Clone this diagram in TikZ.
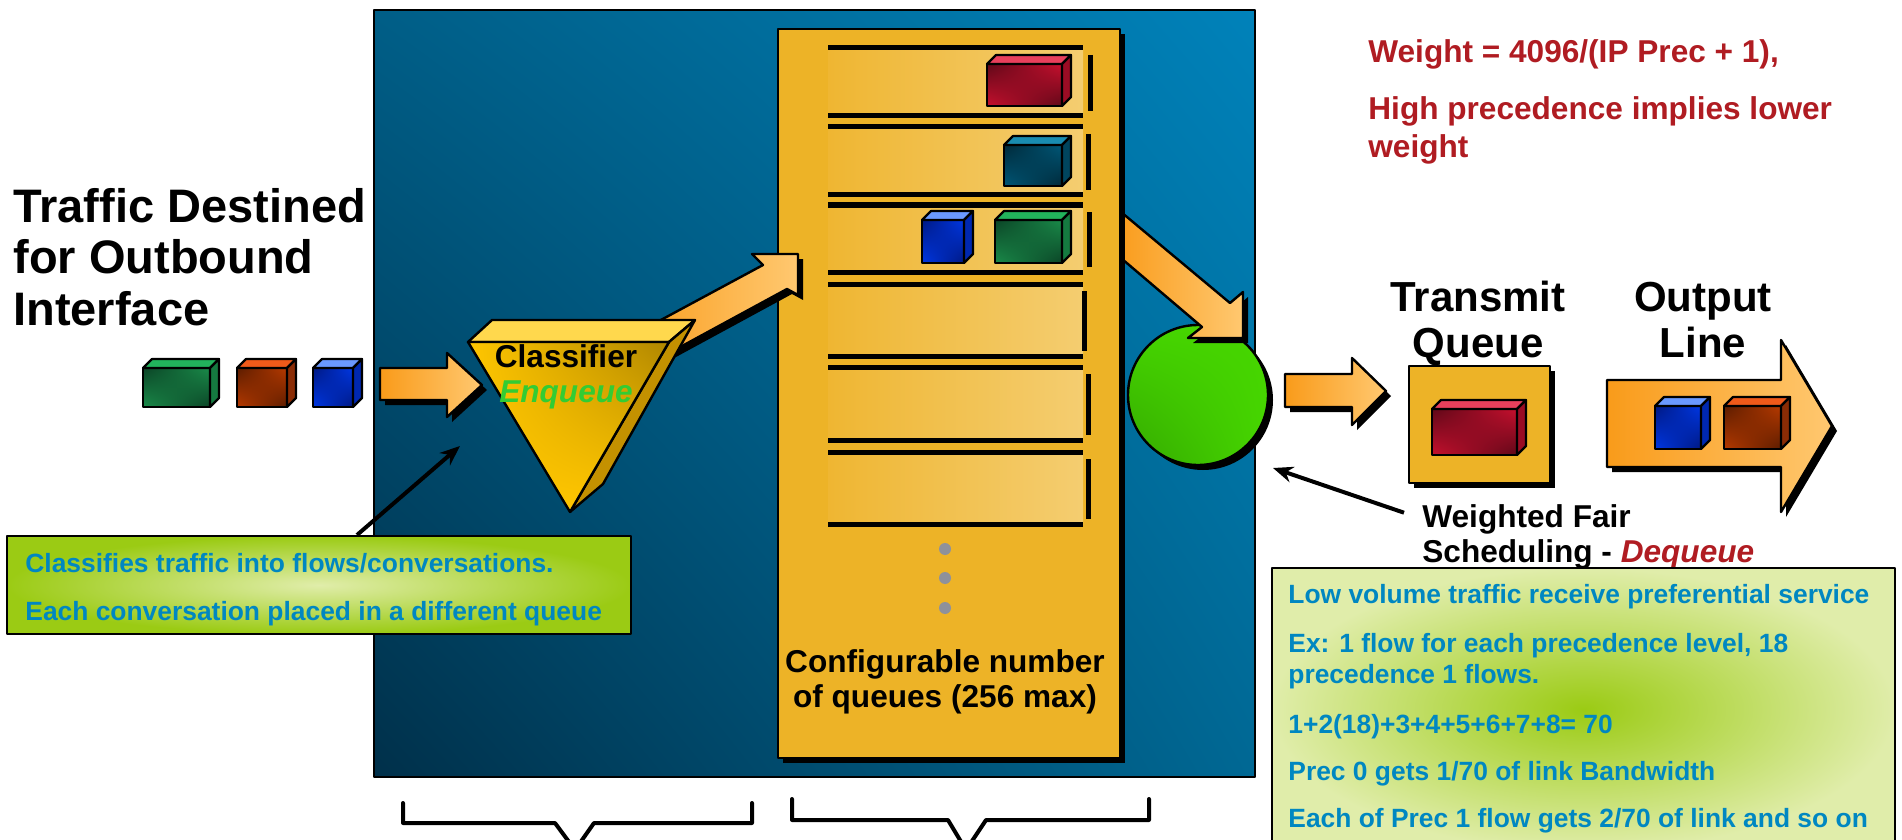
\documentclass[tikz,border=0pt]{standalone}
\usepackage{fontspec}
\setmainfont{Liberation Sans}
\usetikzlibrary{arrows.meta,positioning,shadows,shadings}

\definecolor{panelul}{HTML}{005E87}
\definecolor{panelur}{HTML}{0082BA}
\definecolor{panelll}{HTML}{00304A}
\definecolor{panellr}{HTML}{006894}
\definecolor{gold}{HTML}{EDB327}
\definecolor{slotl}{HTML}{EFB632}
\definecolor{slotr}{HTML}{F4CD70}
\definecolor{flowl}{HTML}{F99B1A}
\definecolor{flowr}{HTML}{FFC870}
\definecolor{clstop}{HTML}{FFD84D}
\definecolor{clsfront}{HTML}{FFC600}
\definecolor{clsdark}{HTML}{B08600}
\definecolor{clsside}{HTML}{C49100}
\definecolor{wfqhi}{HTML}{46D600}
\definecolor{wfqlo}{HTML}{34A800}
\definecolor{dotgray}{HTML}{8E919B}
\definecolor{notelight}{HTML}{E0EDAA}
\definecolor{notegreen}{HTML}{9BCB14}
\definecolor{notetext}{HTML}{0087C1}
\definecolor{wred}{HTML}{B01C22}
\definecolor{enqgreen}{HTML}{33CC33}
% packet colours: F front, D shaded corner, T top face, S side face
\definecolor{grnF}{HTML}{1A8C4A}\definecolor{grnD}{HTML}{0B4326}
\definecolor{grnT}{HTML}{22B35C}\definecolor{grnS}{HTML}{157A40}
\definecolor{orgF}{HTML}{B83A00}\definecolor{orgD}{HTML}{5A1C00}
\definecolor{orgT}{HTML}{F05A1A}\definecolor{orgS}{HTML}{8A2C05}
\definecolor{bluF}{HTML}{0038E6}\definecolor{bluD}{HTML}{001880}
\definecolor{bluT}{HTML}{6A99FF}\definecolor{bluS}{HTML}{0028B0}
\definecolor{redF}{HTML}{C8102E}\definecolor{redD}{HTML}{5E0818}
\definecolor{redT}{HTML}{E8405C}\definecolor{redS}{HTML}{9A0C24}
\definecolor{teaF}{HTML}{005878}\definecolor{teaD}{HTML}{002838}
\definecolor{teaT}{HTML}{1A8CB0}\definecolor{teaS}{HTML}{00455E}

% a packet: x, y of the front face (top left), width, height, colour prefix
\newcommand{\qpacket}[5]{%
  \shadedraw[pkt,shading=bilinear interpolation,upper left=#5D,lower right=#5D,
    upper right=#5F,lower left=#5F] (#1,#2) rectangle ++(#3,#4);
  \filldraw[pkt,fill=#5T] (#1,#2) -- ++(9,-9) -- ++(#3,0) -- ++(-9,9) -- cycle;
  \filldraw[pkt,fill=#5S] (#1+#3,#2) -- ++(9,-9) -- ++(0,#4) -- ++(-9,9) -- cycle;
}

\begin{document}
\begin{tikzpicture}[x=0.5pt,y=-0.5pt,line join=round,
  shadowed/.style={drop shadow={shadow xshift=2.5pt,shadow yshift=-2.5pt,fill=black,opacity=1}},
  flow/.style={left color=flowl,right color=flowr,draw=black,line width=1.2pt,shadowed},
  pkt/.style={draw=black,line width=1.1pt},
  qline/.style={line width=2.5pt},
  pointer/.style={line width=2pt,-{Stealth[length=10pt,width=8pt]}},
  bracket/.style={line width=2pt,line cap=round},
  txt/.style={inner sep=0pt,font=\bfseries\fontsize{15.8}{17.5}\selectfont},
  bigtxt/.style={inner sep=0pt,align=center,font=\bfseries\fontsize{21}{23}\selectfont},
  notetxt/.style={inner sep=0pt,anchor=base west,text=notetext,font=\bfseries\fontsize{13.2}{15}\selectfont},
  notebox/.style={draw=black,line width=1pt,inner sep=0pt,anchor=north west}]
\fill[white] (0,0) rectangle (1902,840);
\useasboundingbox (0,0) rectangle (1902,840);
\clip (0,0) rectangle (1902,840);

% incoming traffic (multi-line labels sit on their last baseline)
\node[anchor=base west,align=left,inner sep=0pt,font=\bfseries\fontsize{23.5}{25.75}\selectfont]
  (traffic) at (13,325) {Traffic Destined\\for Outbound\\Interface};
\qpacket{143}{368}{67}{39}{grn}
\qpacket{237}{368}{50}{39}{org}
\qpacket{313}{368}{40}{39}{blu}

% WFQ system
\shadedraw[shading=bilinear interpolation,upper left=panelul,upper right=panelur,
  lower left=panelll,lower right=panellr,line width=1pt] (374,10) rectangle (1255,777);
\node[circle,minimum size=70pt,inner sep=0pt,draw,line width=1.2pt,shadowed,shade,
  shading=bilinear interpolation,upper left=wfqhi,upper right=wfqhi,
  lower right=wfqhi,lower left=wfqlo] (wfq) at (1198,395) {};
\path[flow] (1115,207) -- (1230,303) -- (1243,292) -- (1243,338) -- (1188,338)
  -- (1202,327) -- (1115,253) -- cycle;

% the queues
\node[draw,fill=gold,line width=1.2pt,shadowed,inner sep=0pt,anchor=north west,
  minimum width=171pt,minimum height=364.5pt] (queues) at (777,28) {};
\foreach \ya/\yb/\bx in {48/116/1090,127/195/1088,205/272/1089,284/356/1084,367/440/1088,452/524/1088}{
  \shade[left color=slotl,right color=slotr] (828,\ya) rectangle (1083,\yb);
  \draw[qline] (828,\ya) -- (1083,\ya) (828,\yb) -- (1083,\yb);
  \draw[qline] (\bx,\ya+7) -- (\bx,\yb-5);
}
\qpacket{987}{64}{75}{42}{red}
\qpacket{1004}{145}{58}{41}{tea}
\qpacket{922}{220}{42}{43}{blu}
\qpacket{995}{220}{67}{43}{grn}
\foreach \y in {549,578,608}
  \fill[dotgray] (945,\y) circle[radius=6];
\node[txt,anchor=base,align=center] (qcount) at (945,707) {Configurable number\\of queues (256 max)};

% classifier
\path[flow] (620,342) -- (763,265) -- (752,254) -- (798,254) -- (798,295) -- (787,289)
  -- (636,371) -- cycle;
\filldraw[fill=clstop,line width=1.2pt] (468,342) -- (492,320) -- (695,320) -- (669,342) -- cycle;
\filldraw[fill=clsside,line width=1.2pt] (669,342) -- (695,320) -- (603,484) -- (570,512) -- cycle;
\shadedraw[shading=bilinear interpolation,upper left=clsfront,lower left=clsfront,
  lower right=clsfront,upper right=clsdark,line width=1.2pt]
  (468,342) -- (669,342) -- (570,512) -- cycle;
\node[txt,anchor=base,align=center] (classifier) at (566,402)
  {Classifier\\\textcolor{enqgreen}{\itshape Enqueue}};
\path[flow] (380,368) -- (447,368) -- (447,353) -- (482,385) -- (447,417) -- (447,400)
  -- (380,400) -- cycle;

% what the classifier does
\node[notebox,inner color=notelight,outer color=notegreen,minimum width=312pt,
  minimum height=49pt] (clsnote) at (6,535) {};
\coordinate (clsptr) at (460,446);
\draw[pointer] ([xshift=175.5pt]clsnote.north west) -- (clsptr);
\node[notetxt] (clsline1) at (25,572) {Classifies traffic into flows/conversations.};
\node[notetxt] (clsline2) at (25,620) {Each conversation placed in a different queue};

% transmit queue and output line
\path[flow] (1285,374) -- (1352,374) -- (1352,358) -- (1386,391) -- (1352,425) -- (1352,407)
  -- (1285,407) -- cycle;
\node[draw,fill=gold,line width=1.2pt,shadowed,inner sep=0pt,anchor=north west,
  minimum width=70.5pt,minimum height=58.5pt] (txq) at (1408,365) {};
\qpacket{1432}{409}{85}{46}{red}
\node[bigtxt,anchor=base] (txlabel) at (1478,357) {Transmit\\Queue};
\path[flow] (1607,380) -- (1781,380) -- (1781,340) -- (1832,426) -- (1781,512) -- (1781,467)
  -- (1607,467) -- cycle;
\qpacket{1655}{406}{46}{43}{blu}
\qpacket{1724}{406}{57}{43}{org}
\node[bigtxt,anchor=base] (outlabel) at (1703,357) {Output\\Line};

% scheduler
\node[txt,anchor=base west,align=left] (sched) at (1422,562)
  {Weighted Fair\\Scheduling - \textcolor{wred}{\itshape Dequeue}};
\coordinate (wfqptr) at (1273,468);
\draw[pointer] ([shift={(-9pt,-4.5pt)}]sched.north west) -- (wfqptr);

\node[notebox,inner color=notegreen,outer color=notelight,minimum width=311.5pt,
  minimum height=141.5pt] (wfqnote) at (1271,567) {};
\foreach \y/\t [count=\i] in {603/{Low volume traffic receive preferential service},
    652/{Ex: 1 flow for each precedence level, 18},683/{precedence 1 flows.},
    733/{1+2(18)+3+4+5+6+7+8= 70},780/{Prec 0 gets 1/70 of link Bandwidth},
    827/{Each of Prec 1 flow gets 2/70 of link and so on}}
  \node[notetxt] (wfqline\i) at (1288,\y) {\t};

% weights
\node[txt,anchor=base west,text=wred] (weight) at (1368,63) {Weight = 4096/(IP Prec + 1),};
\node[txt,anchor=base west,align=left,text=wred,font=\bfseries\fontsize{15.8}{18.5}\selectfont]
  (precnote) at (1368,157) {High precedence implies lower\\weight};

% braces under the two stages
\draw[bracket] (403,803) |- (555,823) -- (575,850) -- (594,823) -| (752,803);
\draw[bracket] (792,799) |- (948,820) -- (966,850) -- (986,820) -| (1149,799);
\end{tikzpicture}
\end{document}
